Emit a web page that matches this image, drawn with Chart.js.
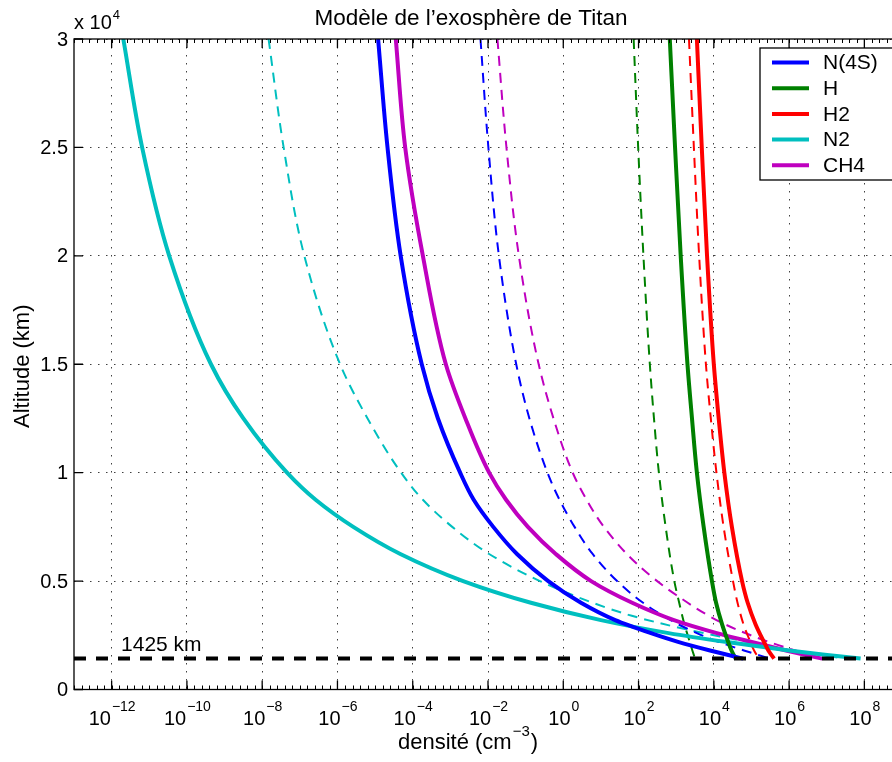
<!DOCTYPE html>
<html>
<head>
<meta charset="utf-8">
<script src="https://cdn.jsdelivr.net/npm/chart.js@4.4.0/dist/chart.umd.min.js"></script>
<style>
    html, body { margin: 0; padding: 0; background: #fff; overflow: hidden; }
    #wrap { width: 912px; height: 762px; }
</style>
</head>
<body>
<div id="wrap"><canvas id="chart_titan" width="912" height="762"></canvas></div>
<script>
// Altitude (km) and log10 of density (cm^-3)
const profAlt = [30000, 25000, 20000, 15000, 12500, 10000, 8750, 7500, 6250, 5000, 4000, 3200, 2600, 2200, 1800, 1600, 1425];
const n4sLog = [-4.92, -4.67, -4.32, -3.76, -3.33, -2.74, -2.38, -1.86, -1.23, -0.40, 0.47, 1.38, 2.33, 3.05, 3.90, 4.36, 4.78];
const n4sDashLog = [-2.20, -1.99, -1.71, -1.25, -0.90, -0.42, -0.10, 0.30, 0.78, 1.43, 2.12, 2.85, 3.55, 4.12, 4.80, 5.17, 5.50];

const lightAlt = [30000, 25000, 20000, 15000, 12500, 10000, 7500, 5000, 4000, 3000, 2200, 1800, 1425];
const hLog = [2.83, 2.97, 3.12, 3.30, 3.42, 3.55, 3.73, 3.95, 4.06, 4.22, 4.38, 4.47, 4.58];
const hDashLog = [1.87, 1.99, 2.13, 2.30, 2.41, 2.54, 2.72, 2.95, 3.08, 3.22, 3.36, 3.43, 3.50];
const h2Log = [3.55, 3.68, 3.82, 4.00, 4.13, 4.28, 4.48, 4.75, 4.90, 5.11, 5.33, 5.45, 5.60];
const h2DashLog = [3.34, 3.47, 3.61, 3.79, 3.92, 4.07, 4.26, 4.51, 4.63, 4.79, 4.97, 5.07, 5.20];

const n2Log = [-11.69, -11.19, -10.47, -9.36, -8.50, -7.34, -6.58, -5.58, -4.33, -2.66, -0.86, 1.00, 2.80, 4.30, 6.00, 6.95, 7.90];
const n2DashAlt = [30000, 25000, 20000, 15000, 12500, 10000, 8750, 7500, 6250, 5000, 4000, 3400, 2800, 2400, 2000, 1700, 1425];
const n2DashLog = [-7.83, -7.43, -6.88, -5.93, -5.20, -4.31, -3.73, -2.95, -1.97, -0.62, 0.78, 1.82, 3.20, 4.30, 5.45, 6.45, 7.45];

const ch4Log = [-4.45, -4.20, -3.73, -3.12, -2.60, -1.97, -1.52, -0.94, -0.20, 0.74, 1.83, 2.94, 4.08, 4.98, 5.92, 6.42, 6.88];
const ch4DashAlt = [30000, 25000, 20000, 15200, 12500, 10000, 8750, 7500, 5820, 4360, 2980, 2130, 1510, 1425];
const ch4DashLog = [-1.75, -1.51, -1.18, -0.68, -0.26, 0.25, 0.62, 1.08, 1.94, 3.00, 4.33, 5.57, 6.72, 6.88];

const exobaseAlt = 1425;
const xTickExp = [-12, -10, -8, -6, -4, -2, 0, 2, 4, 6, 8];
const yTicks = [0, 5000, 10000, 15000, 20000, 25000, 30000];
const yTickLabels = ['0', '0.5', '1', '1.5', '2', '2.5', '3'];

const FONT = '"Liberation Sans", Arial, sans-serif';

function toPoints(alt, logN) {
    return alt.map((a, i) => ({ x: Math.pow(10, logN[i]), y: a }));
}

const species = [
    { label: 'N(4S)', color: '#0000ff', alt: profAlt, log: n4sLog, dashAlt: profAlt, dashLog: n4sDashLog },
    { label: 'H', color: '#008000', alt: lightAlt, log: hLog, dashAlt: lightAlt, dashLog: hDashLog },
    { label: 'H2', color: '#ff0000', alt: lightAlt, log: h2Log, dashAlt: lightAlt, dashLog: h2DashLog },
    { label: 'N2', color: '#00bfbf', alt: profAlt, log: n2Log, dashAlt: n2DashAlt, dashLog: n2DashLog },
    { label: 'CH4', color: '#bf00bf', alt: profAlt, log: ch4Log, dashAlt: ch4DashAlt, dashLog: ch4DashLog },
];

// 1425 km line on top, then solid profiles, then dashed ones
const datasets = [{
    label: 'exobase',
    data: [{ x: 1e-13, y: exobaseAlt }, { x: 1e9, y: exobaseAlt }],
    borderColor: '#000',
    borderWidth: 4,
    borderDash: [12, 10],
}];
species.forEach(s => {
    datasets.push({
        label: s.label,
        data: toPoints(s.alt, s.log),
        borderColor: s.color,
        borderWidth: 4,
        cubicInterpolationMode: 'monotone',
    });
});
species.forEach(s => {
    datasets.push({
        label: s.label + ' (tirets)',
        data: toPoints(s.dashAlt, s.dashLog),
        borderColor: s.color,
        borderWidth: 2,
        borderDash: [10, 7],
        cubicInterpolationMode: 'monotone',
    });
});

// text with a raised exponent, e.g. 10^-12
function drawPower(ctx, base, exp, x, baseline, align, size, expSize, raise) {
    ctx.font = size + 'px ' + FONT;
    const wb = ctx.measureText(base).width;
    ctx.font = expSize + 'px ' + FONT;
    const we = ctx.measureText(exp).width;
    const left = align === 'center' ? x - (wb + we) / 2 : x;
    ctx.textAlign = 'left';
    ctx.textBaseline = 'alphabetic';
    ctx.font = size + 'px ' + FONT;
    ctx.fillText(base, left, baseline);
    ctx.font = expSize + 'px ' + FONT;
    ctx.fillText(exp, left + wb + 1, baseline - raise);
    return left + wb + 1 + we;
}

const axesPlugin = {
    id: 'titanAxes',
    afterDatasetsDraw(chart) {
        const { ctx, chartArea: a, scales: { x, y } } = chart;
        ctx.save();
        ctx.fillStyle = '#000';
        ctx.strokeStyle = '#000';

        // box
        ctx.lineWidth = 1.3;
        ctx.strokeRect(a.left, a.top, a.right - a.left, a.bottom - a.top);

        // minor ticks along x
        ctx.lineWidth = 1;
        ctx.beginPath();
        for (let e = -13; e <= 9; e += 0.2) {
            const px = Math.round(x.getPixelForValue(Math.pow(10, e))) + 0.5;
            ctx.moveTo(px, a.bottom); ctx.lineTo(px, a.bottom - 4);
            ctx.moveTo(px, a.top); ctx.lineTo(px, a.top + 4);
        }
        ctx.stroke();

        // major ticks
        ctx.lineWidth = 1.3;
        ctx.beginPath();
        xTickExp.forEach(e => {
            const px = x.getPixelForValue(Math.pow(10, e));
            ctx.moveTo(px, a.bottom); ctx.lineTo(px, a.bottom - 9);
            ctx.moveTo(px, a.top); ctx.lineTo(px, a.top + 9);
        });
        yTicks.forEach(v => {
            const py = y.getPixelForValue(v);
            ctx.moveTo(a.left, py); ctx.lineTo(a.left + 9, py);
            ctx.moveTo(a.right, py); ctx.lineTo(a.right - 9, py);
        });
        ctx.stroke();

        // x tick labels
        xTickExp.forEach(e => {
            const px = x.getPixelForValue(Math.pow(10, e));
            const exp = e < 0 ? '\u2212' + Math.abs(e) : String(e);
            drawPower(ctx, '10', exp, px, a.bottom + 35, 'center', 20, 14, 14);
        });

        // y tick labels
        ctx.font = '20px ' + FONT;
        ctx.textAlign = 'right';
        ctx.textBaseline = 'middle';
        yTicks.forEach((v, i) => {
            ctx.fillText(yTickLabels[i], a.left - 6, y.getPixelForValue(v) + 1);
        });

        // multiplier above the y axis
        drawPower(ctx, 'x 10', '4', a.left, a.top - 10, 'left', 20, 13, 10);

        // axis titles
        ctx.font = '22px ' + FONT;
        const w1 = ctx.measureText('densit\u00e9 (cm').width;
        ctx.font = '15px ' + FONT;
        const w2 = ctx.measureText('\u22123').width;
        ctx.font = '22px ' + FONT;
        const w3 = ctx.measureText(')').width;
        const left = 468 - (w1 + w2 + w3 + 2) / 2;
        const end = drawPower(ctx, 'densit\u00e9 (cm', '\u22123', left, a.bottom + 59, 'left', 22, 15, 13);
        ctx.font = '22px ' + FONT;
        ctx.fillText(')', end + 1, a.bottom + 59);

        ctx.save();
        ctx.translate(29, (a.top + a.bottom) / 2 + 2);
        ctx.rotate(-Math.PI / 2);
        ctx.textAlign = 'center';
        ctx.textBaseline = 'alphabetic';
        ctx.fillText('Altitude (km)', 0, 0);
        ctx.restore();

        // title
        ctx.font = '22.5px ' + FONT;
        ctx.textAlign = 'center';
        ctx.textBaseline = 'alphabetic';
        ctx.fillText('Mod\u00e8le de l\u2019exosph\u00e8re de Titan', 471, 25);

        // exobase label
        ctx.font = '21px ' + FONT;
        ctx.textAlign = 'left';
        ctx.fillText('1425 km', x.getPixelForValue(Math.pow(10, -11.75)), y.getPixelForValue(exobaseAlt) - 8);

        ctx.restore();
    }
};

const legendPlugin = {
    id: 'titanLegend',
    afterDraw(chart) {
        const { ctx, chartArea: a } = chart;
        const boxLeft = 760, boxTop = 48, boxBottom = 180;
        ctx.save();
        ctx.fillStyle = '#fff';
        ctx.fillRect(boxLeft, boxTop, a.right + 6 - boxLeft, boxBottom - boxTop);
        ctx.strokeStyle = '#000';
        ctx.lineWidth = 1.3;
        ctx.strokeRect(boxLeft, boxTop, a.right + 6 - boxLeft, boxBottom - boxTop);
        ctx.font = '21px ' + FONT;
        ctx.textAlign = 'left';
        ctx.textBaseline = 'middle';
        species.forEach((s, i) => {
            const cy = 62.5 + i * 25.7;
            ctx.strokeStyle = s.color;
            ctx.lineWidth = 4;
            ctx.beginPath();
            ctx.moveTo(772, cy); ctx.lineTo(809, cy);
            ctx.stroke();
            ctx.fillStyle = '#000';
            ctx.fillText(s.label, 823, cy + 1);
        });
        ctx.restore();
    }
};

const gridOpts = { color: 'rgba(0,0,0,0.75)', lineWidth: 1, drawTicks: false };

new Chart(document.getElementById('chart_titan').getContext('2d'), {
    type: 'line',
    data: { datasets: datasets },
    plugins: [axesPlugin, legendPlugin],
    options: {
        indexAxis: 'y',
        responsive: false,
        animation: false,
        layout: { padding: { left: 74, top: 39, right: 10, bottom: 72.5 } },
        elements: { point: { radius: 0 } },
        plugins: {
            legend: { display: false },
            title: { display: false },
            tooltip: { enabled: false }
        },
        scales: {
            x: {
                type: 'logarithmic',
                min: 1e-13,
                max: 1e9,
                afterBuildTicks: axis => { axis.ticks = xTickExp.map(e => ({ value: Math.pow(10, e) })); },
                afterFit: axis => { axis.height = 0; },
                ticks: { display: false },
                grid: gridOpts,
                border: { display: false, dash: [1.5, 6.5] }
            },
            y: {
                type: 'linear',
                min: 0,
                max: 30000,
                afterBuildTicks: axis => { axis.ticks = yTicks.map(v => ({ value: v })); },
                afterFit: axis => { axis.width = 0; },
                ticks: { display: false },
                grid: gridOpts,
                border: { display: false, dash: [1.5, 6.5] }
            }
        }
    }
});
</script>
</body>
</html>
